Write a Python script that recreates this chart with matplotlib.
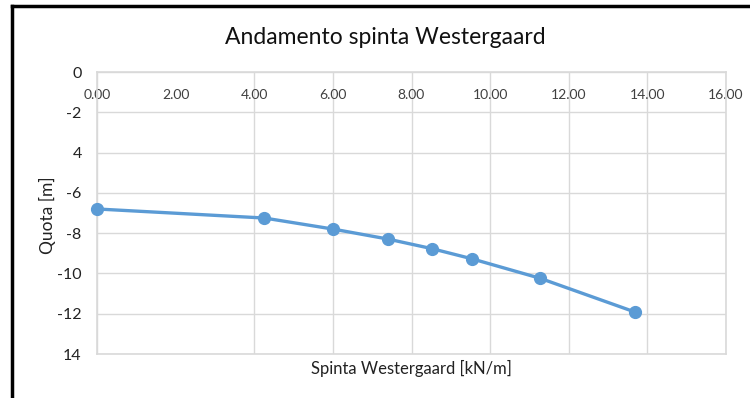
import matplotlib.pyplot as plt
from matplotlib.lines import Line2D

plt.rcParams['font.family'] = ['Lato', 'DejaVu Sans']

# Westergaard thrust along depth
spinta = [0.00, 4.26, 6.01, 7.39, 8.52, 9.53, 11.27, 13.69]
quota = [-6.80, -7.25, -7.80, -8.29, -8.77, -9.27, -10.24, -11.92]

x_ticks = [0, 2, 4, 6, 8, 10, 12, 14, 16]
x_labels = ["0.00", "2.00", "4.00", "6.00", "8.00", "10.00", "12.00", "14.00", "16.00"]
y_ticks = [0, -2, -4, -6, -8, -10, -12, -14]
y_labels = ["0", "-2", "4", "-6", "-8", "-10", "-12", "14"]

blue = '#5B9BD5'
grid_c = '#D9D9D9'
text_c = '#404040'

fig = plt.figure(figsize=(7.5, 3.98), dpi=100)
ax = fig.add_axes([97/750, 1-354/398, 629/750, 282/398])

ax.plot(spinta, quota, color=blue, lw=2.4, marker='o', ms=8.5,
        markerfacecolor=blue, markeredgecolor=blue, clip_on=False, zorder=3)

ax.set_xlim(0, 16)
ax.set_ylim(-14, 0)
ax.set_xticks(x_ticks, x_labels)
ax.set_yticks(y_ticks, y_labels)

ax.xaxis.set_ticks_position('top')
ax.tick_params(axis='x', length=0, pad=-21, labelsize=10, labelcolor=text_c)
ax.tick_params(axis='y', length=0, pad=11, labelsize=11.5, labelcolor='#222222')

ax.grid(True, color=grid_c, lw=1.0)
ax.set_axisbelow(True)
# no vertical line at 2.00
ax.xaxis.get_gridlines()[1].set_visible(False)
for s in ax.spines.values():
    s.set_color(grid_c)
    s.set_linewidth(1.2)

fig.text(47/750, 1-215/398, "Quota [m]", ha='center', va='center', rotation=90,
         fontsize=12.5, color='#222222')
fig.text(411/750, 1-368/398, "Spinta Westergaard [kN/m]", ha='center', va='center',
         fontsize=12, color='#222222')
fig.text(385/750, 1-38/398, "Andamento spinta Westergaard", ha='center', va='center',
         fontsize=16.5, color='#111111')

# black frame on top and left
fig.add_artist(Line2D([11.5/750, 1.0], [1-5.5/398, 1-5.5/398], color='black', lw=2.5,
                      transform=fig.transFigure))
fig.add_artist(Line2D([11.5/750, 11.5/750], [0, 1-5.5/398], color='black', lw=2.5,
                      transform=fig.transFigure))

fig.savefig("out.png", dpi=100)
